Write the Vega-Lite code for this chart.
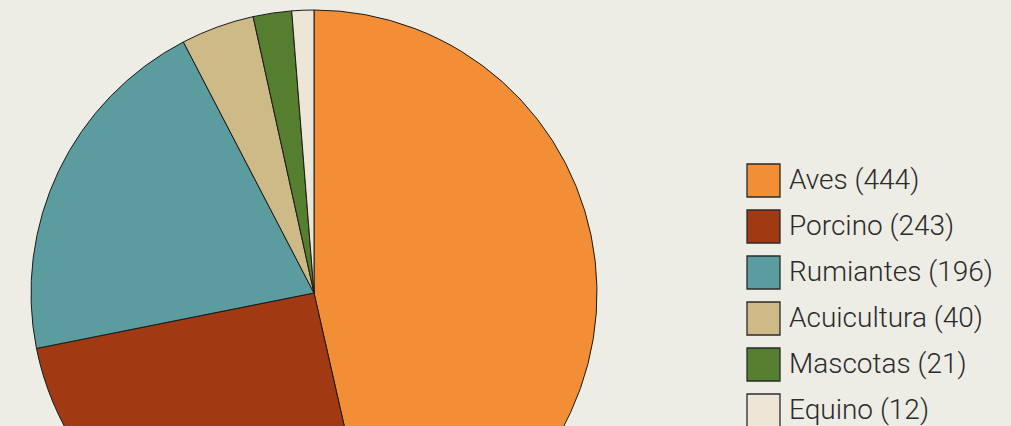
{
  "$schema": "https://vega.github.io/schema/vega-lite/v6.json",
  "width": 628,
  "height": 586,
  "padding": {"left": 0, "top": 0, "right": 383, "bottom": 0},
  "autosize": {"type": "none"},
  "background": "#EDEDE6",
  "config": {"view": {"stroke": null}},
  "data": {"values": [
    {"o": 1, "cat": "Aves (444)", "v": 444},
    {"o": 2, "cat": "Porcino (243)", "v": 243},
    {"o": 3, "cat": "Rumiantes (196)", "v": 196},
    {"o": 4, "cat": "Acuicultura (40)", "v": 40},
    {"o": 5, "cat": "Mascotas (21)", "v": 21},
    {"o": 6, "cat": "Equino (12)", "v": 12}
  ]},
  "mark": {"type": "arc", "radius": 283, "stroke": "#1a1a1a", "strokeWidth": 1},
  "encoding": {
    "theta": {"field": "v", "type": "quantitative", "stack": true},
    "order": {"field": "o", "type": "quantitative"},
    "color": {
      "field": "cat", "type": "nominal",
      "scale": {
        "domain": ["Aves (444)", "Porcino (243)", "Rumiantes (196)", "Acuicultura (40)", "Mascotas (21)", "Equino (12)"],
        "range": ["#F28E35", "#A13912", "#5B9C9E", "#CDBA87", "#567E2F", "#EDE5D6"]
      },
      "legend": {
        "title": null,
        "orient": "none",
        "legendX": 746,
        "legendY": 163,
        "padding": 0,
        "symbolType": "square",
        "symbolSize": 1089,
        "symbolStrokeColor": "#2a2a2a",
        "symbolStrokeWidth": 1.3,
        "symbolOpacity": 1,
        "labelFont": "Roboto",
        "labelFontWeight": 300,
        "labelFontSize": 28,
        "labelColor": "#2b2b2b",
        "labelOffset": 8,
        "rowPadding": 7,
        "labelLimit": 400
      }
    }
  }
}
